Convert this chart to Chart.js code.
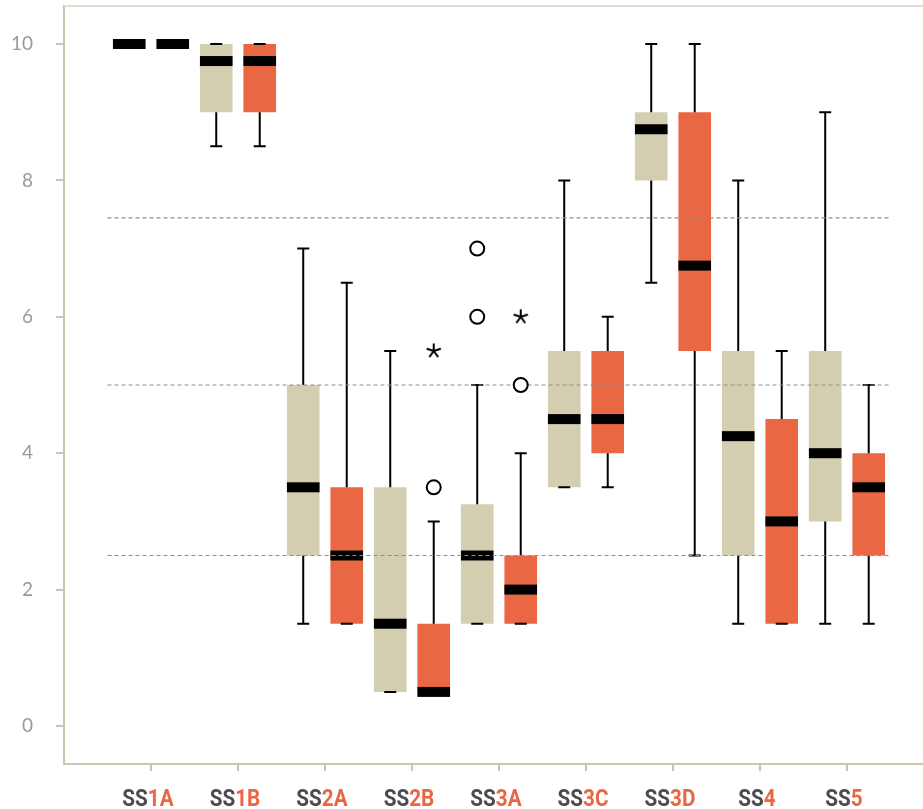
<!DOCTYPE html>
<html>
<head>
<meta charset="utf-8">
<script src="https://cdn.jsdelivr.net/npm/chart.js@4.4.1/dist/chart.umd.min.js"></script>
<style>
  html, body { margin: 0; padding: 0; background: #ffffff; }
  #wrap { width: 923px; height: 809px; }
</style>
</head>
<body>
<div id="wrap"><canvas id="chart" width="923" height="809"></canvas></div>
<script>
// Categories and tick values
const categories = ['SS1A', 'SS1B', 'SS2A', 'SS2B', 'SS3A', 'SS3C', 'SS3D', 'SS4', 'SS5'];
const yTicks = [0, 2, 4, 6, 8, 10];
const refLines = [2.5, 5, 7.45];

// First group (beige) five-number summaries
const beigeMin    = [10, 8.5, 1.5, 0.5, 1.5, 3.5, 6.5, 1.5, 1.5];
const beigeQ1     = [10, 9,   2.5, 0.5, 1.5, 3.5, 8,   2.5, 3];
const beigeMedian = [10, 9.75, 3.5, 1.5, 2.5, 4.5, 8.75, 4.25, 4];
const beigeQ3     = [10, 10,  5,   3.5, 3.25, 5.5, 9,  5.5, 5.5];
const beigeMax    = [10, 10,  7,   5.5, 5,   8,   10,  8,   9];

// Second group (orange) five-number summaries
const orangeMin    = [10, 8.5, 1.5, 0.5, 1.5, 3.5, 2.5, 1.5, 1.5];
const orangeQ1     = [10, 9,   1.5, 0.5, 1.5, 4,   5.5, 1.5, 2.5];
const orangeMedian = [10, 9.75, 2.5, 0.5, 2,  4.5, 6.75, 3,  3.5];
const orangeQ3     = [10, 10,  3.5, 1.5, 2.5, 5.5, 9,   4.5, 4];
const orangeMax    = [10, 10,  6.5, 3,   4,   6,   10,  5.5, 5];

// Outliers (circle) and extreme values (star)
const beigeOutliers  = [{ cat: 'SS3A', value: 6 }, { cat: 'SS3A', value: 7 }];
const orangeOutliers = [{ cat: 'SS2B', value: 3.5 }, { cat: 'SS3A', value: 5 }];
const orangeExtremes = [{ cat: 'SS2B', value: 5.5 }, { cat: 'SS3A', value: 6 }];

const BEIGE = '#d3ceb0';
const ORANGE = '#ea6744';
const AXIS = '#c9c6b2';
const CAT_PCT = 1.0;
const BAR_PCT = 0.75;
const sideOffset = CAT_PCT / 4; // centre of each half of a category slot

// Asterisk marker for extreme values
function makeAsterisk() {
  const c = document.createElement('canvas');
  c.width = 18; c.height = 18;
  const g = c.getContext('2d');
  g.strokeStyle = '#000';
  g.lineWidth = 2;
  g.lineCap = 'butt';
  g.beginPath();
  for (let k = 0; k < 5; k++) {
    const a = -Math.PI / 2 + k * 2 * Math.PI / 5;
    g.moveTo(9, 9);
    g.lineTo(9 + 7.5 * Math.cos(a), 9 + 7.5 * Math.sin(a));
  }
  g.stroke();
  return c;
}

const toPoints = (list, side) => list.map(o => ({ x: categories.indexOf(o.cat) + side * sideOffset, y: o.value }));
const toBoxes = (q1, q3) => categories.map((_, i) => ({ x: i, y: [q1[i], q3[i]] }));
const refLine = v => [{ x: -0.5, y: v }, { x: categories.length - 0.5, y: v }];

// Remove the automatic label overhang padding so the plot area fills the canvas
const noOverhang = s => { s.paddingTop = 0; s.paddingBottom = 0; s.paddingLeft = 0; s.paddingRight = 0; };

// Whiskers, caps and median bars drawn right after each box dataset
const boxExtras = {
  id: 'boxExtras',
  afterDatasetDraw(chart, args) {
    const ds = chart.data.datasets[args.index];
    if (!ds.stats) return;
    const ys = chart.scales.y;
    const ctx = chart.ctx;
    const s = ds.stats;
    ctx.save();
    args.meta.data.forEach((bar, i) => {
      const { x, width } = bar.getProps(['x', 'width'], true);
      const pMin = ys.getPixelForValue(s.min[i]);
      const pQ1 = ys.getPixelForValue(s.q1[i]);
      const pMed = ys.getPixelForValue(s.median[i]);
      const pQ3 = ys.getPixelForValue(s.q3[i]);
      const pMax = ys.getPixelForValue(s.max[i]);
      const cap = 6;
      ctx.strokeStyle = '#000';
      ctx.lineWidth = 2;
      ctx.beginPath();
      ctx.moveTo(x, pQ3); ctx.lineTo(x, pMax);
      ctx.moveTo(x, pQ1); ctx.lineTo(x, pMin);
      ctx.moveTo(x - cap, pMax); ctx.lineTo(x + cap, pMax);
      ctx.moveTo(x - cap, pMin); ctx.lineTo(x + cap, pMin);
      ctx.stroke();
      ctx.fillStyle = '#000';
      ctx.fillRect(x - width / 2, pMed - 5, width, 10);
    });
    ctx.restore();
  }
};

// Frame line on top and two-colour category labels
const frameAndLabels = {
  id: 'frameAndLabels',
  beforeDatasetsDraw(chart) {
    const { ctx, chartArea } = chart;
    ctx.save();
    ctx.strokeStyle = '#dddbd2';
    ctx.lineWidth = 2;
    ctx.beginPath();
    ctx.moveTo(chartArea.left, chartArea.top);
    ctx.lineTo(chartArea.right, chartArea.top);
    ctx.stroke();
    ctx.restore();
  },
  afterDraw(chart) {
    const ctx = chart.ctx;
    const xs = chart.scales.x;
    const squeeze = 0.9;
    ctx.save();
    ctx.font = 'bold 23px Roboto, "DejaVu Sans", sans-serif';
    ctx.textBaseline = 'alphabetic';
    ctx.textAlign = 'left';
    categories.forEach((label, i) => {
      const head = label.slice(0, 2);
      const tail = label.slice(2);
      const wHead = ctx.measureText(head).width;
      const wTail = ctx.measureText(tail).width;
      const total = (wHead + wTail) * squeeze;
      const cx = xs.getPixelForValue(i) - 3;
      ctx.save();
      ctx.translate(cx - total / 2, 806);
      ctx.scale(squeeze, 1);
      ctx.fillStyle = '#4c4c4f';
      ctx.fillText(head, 0, 0);
      ctx.fillStyle = ORANGE;
      ctx.fillText(tail, wHead, 0);
      ctx.restore();
    });
    ctx.restore();
  }
};

const asterisk = makeAsterisk();

const datasets = [
  {
    type: 'bar', label: 'beige', order: 3,
    data: toBoxes(beigeQ1, beigeQ3),
    backgroundColor: BEIGE, borderWidth: 0,
    categoryPercentage: CAT_PCT, barPercentage: BAR_PCT,
    stats: { min: beigeMin, q1: beigeQ1, median: beigeMedian, q3: beigeQ3, max: beigeMax }
  },
  {
    type: 'bar', label: 'orange', order: 3,
    data: toBoxes(orangeQ1, orangeQ3),
    backgroundColor: ORANGE, borderWidth: 0,
    categoryPercentage: CAT_PCT, barPercentage: BAR_PCT,
    stats: { min: orangeMin, q1: orangeQ1, median: orangeMedian, q3: orangeQ3, max: orangeMax }
  },
  ...refLines.map(v => ({
    type: 'line', order: 1, data: refLine(v),
    borderColor: '#8e8e8e', borderWidth: 1.2, borderDash: [4, 3],
    pointRadius: 0, fill: false
  })),
  {
    type: 'scatter', order: 0, data: toPoints(beigeOutliers, -1),
    pointStyle: 'circle', pointRadius: 7, borderWidth: 2,
    borderColor: '#000', backgroundColor: '#fff'
  },
  {
    type: 'scatter', order: 0, data: toPoints(orangeOutliers, 1),
    pointStyle: 'circle', pointRadius: 7, borderWidth: 2,
    borderColor: '#000', backgroundColor: '#fff'
  },
  {
    type: 'scatter', order: 0, data: toPoints(orangeExtremes, 1),
    pointStyle: asterisk, pointRadius: 9
  }
];

new Chart(document.getElementById('chart'), {
  type: 'bar',
  data: { datasets },
  plugins: [boxExtras, frameAndLabels],
  options: {
    responsive: false,
    animation: false,
    devicePixelRatio: 1,
    layout: { autoPadding: false, padding: { top: 6, right: 0, bottom: 0, left: 0 } },
    plugins: { legend: { display: false }, tooltip: { enabled: false } },
    scales: {
      x: {
        type: 'linear',
        offset: false,
        min: -1,
        max: 8.874,
        afterBuildTicks: s => { s.ticks = categories.map((_, i) => ({ value: i })); },
        afterFit: s => { s.height = 45; noOverhang(s); },
        ticks: { display: false },
        grid: { offset: false, drawOnChartArea: false, drawTicks: true, tickLength: 7, color: AXIS, lineWidth: 2 },
        border: { display: true, color: AXIS, width: 2 }
      },
      y: {
        min: -0.557,
        max: 10.557,
        afterBuildTicks: s => { s.ticks = yTicks.map(v => ({ value: v })); },
        afterFit: s => { s.width = 64; noOverhang(s); },
        ticks: { color: '#9a9a9a', padding: 23, font: { family: 'Lato', size: 19 } },
        grid: { drawOnChartArea: false, drawTicks: true, tickLength: 8, color: AXIS, lineWidth: 2 },
        border: { display: true, color: AXIS, width: 2 }
      }
    }
  }
});
</script>
</body>
</html>
